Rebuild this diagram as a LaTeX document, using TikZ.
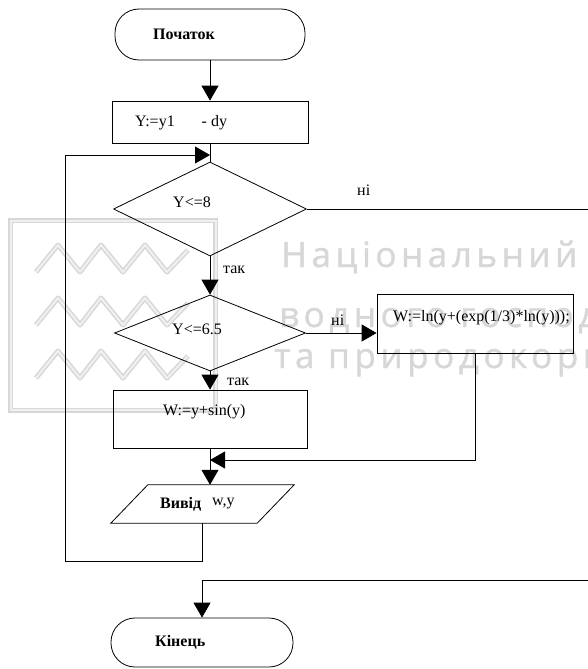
\documentclass[tikz,border=0pt]{standalone}
\usepackage{fontspec}
\setmainfont{Liberation Serif}
\newfontfamily\wmfont[LetterSpace=13,FakeBold=1.2]{Open Sans}
\usetikzlibrary{shapes.geometric,arrows.meta}

\definecolor{wmgray}{RGB}{215,215,215}
\definecolor{wmlight}{RGB}{240,240,240}

\tikzset{
  flow/.style={draw, line width=0.8pt, inner sep=0pt},
  term/.style={flow, rectangle, rounded corners=24pt},
  proc/.style={flow, rectangle},
  cond/.style={flow, diamond},
  lbl/.style={inner sep=0pt, anchor=west, font=\fontsize{16}{19}\selectfont},
  lblb/.style={lbl, font=\fontsize{16}{19}\selectfont\bfseries},
  conn/.style={line width=0.8pt},
  arr/.style={conn, -{Triangle[length=15pt,width=17pt]}},
  wmline/.style={line width=5pt, wmgray, postaction={draw=wmlight, line width=2pt}},
  wmtext/.style={anchor=base west, inner sep=0pt, wmgray, font=\wmfont\fontsize{35}{42}\selectfont},
}

\begin{document}
\begin{tikzpicture}[x=1pt, y=-1pt]
  \useasboundingbox (0,0) rectangle (588,669);

  % faint logo and lettering in the background
  \begin{scope}
    \clip (0,0) rectangle (588,669);
    \draw[wmline] (10.5,220.5) rectangle (215.5,410);
    \foreach \dy in {0,53,106} {
      \draw[wmline, line join=round] (36,272+\dy) -- (58,245+\dy) -- (80,272+\dy) -- (101,245+\dy)
        -- (123,272+\dy) -- (145,245+\dy) -- (167,272+\dy) -- (188,250+\dy);
    }
    \node[wmtext] (wm1) at (281,267) {Національний};
    \node[wmtext] (wm2) at (279,327) {водного господарства};
    \node[wmtext] (wm3) at (274,368) {та природокористування};
  \end{scope}

  % blocks
  \node[term, minimum width=190pt, minimum height=51pt] (start) at (210,34.5) {};
  \node[proc, minimum width=196pt, minimum height=42pt] (box1) at (210,122) {};
  \node[cond, minimum width=193pt, minimum height=94pt] (d1) at (210,209) {};
  \node[cond, minimum width=191pt, minimum height=76pt] (d2) at (210,333) {};
  \node[proc, minimum width=196pt, minimum height=59pt] (box2) at (475,323.5) {};
  \node[proc, minimum width=194pt, minimum height=58pt] (box3) at (210,419) {};
  \node[inner sep=0pt, minimum width=146pt, minimum height=38pt] (out) at (202.5,504) {};
  \draw[conn] ([xshift=-18.5pt]out.south west) -- ([xshift=18.5pt]out.north west)
    -- ([xshift=18.5pt]out.north east) -- ([xshift=-18.5pt]out.south east) -- cycle;
  \node[term, minimum width=182pt, minimum height=49pt] (stop) at (202,642.5) {};

  % texts
  \node[lblb] (tstart) at (153,34) {Початок};
  \node[lbl] (tbox1) at (135,123) {Y:=y1\hspace{27pt}- dy};
  \node[lbl] (td1) at (173,202) {Y<=8};
  \node[lbl] (td2) at (172,329) {Y<=6.5};
  \node[lbl] (tbox2) at (393,318) {W:=ln(y+(exp(1/3)*ln(y)));};
  \node[lbl] (tbox3) at (163,412) {W:=y+sin(y)};
  \node[lblb] (tout) at (160,504) {Вивід};
  \node[lbl] (tout2) at (212,504) {w,y};
  \node[lblb] (tstop) at (155,642) {Кінець};
  \node[lbl] (no1) at (357,190) {ні};
  \node[lbl] (yes1) at (223,270) {так};
  \node[lbl] (no2) at (331,320) {ні};
  \node[lbl] (yes2) at (227,382) {так};

  % join points and loose ends
  \coordinate (m1) at (210,155);
  \coordinate (m2) at (210,460);
  \coordinate (back) at (65,561);
  \coordinate (exit1) at (588,209);
  \coordinate (exit2) at (588,580);

  % connectors
  \draw[arr] (start.south) -- (box1.north);
  \draw[conn] (box1.south) -- (d1.north);
  \draw[conn] (d1.east) -- (exit1);
  \draw[arr] (d1.south) -- (d2.north);
  \draw[arr] (d2.east) -- (d2.east -| box2.west);
  \draw[arr] (d2.south) -- (box3.north);
  \draw[arr] (box2.south) |- (m2);
  \draw[arr] (box3.south) -- (box3.south |- out.north);
  \draw[arr] (out.south) |- (back) |- (m1);
  \draw[arr] (exit2) -| (stop.north);
\end{tikzpicture}
\end{document}
